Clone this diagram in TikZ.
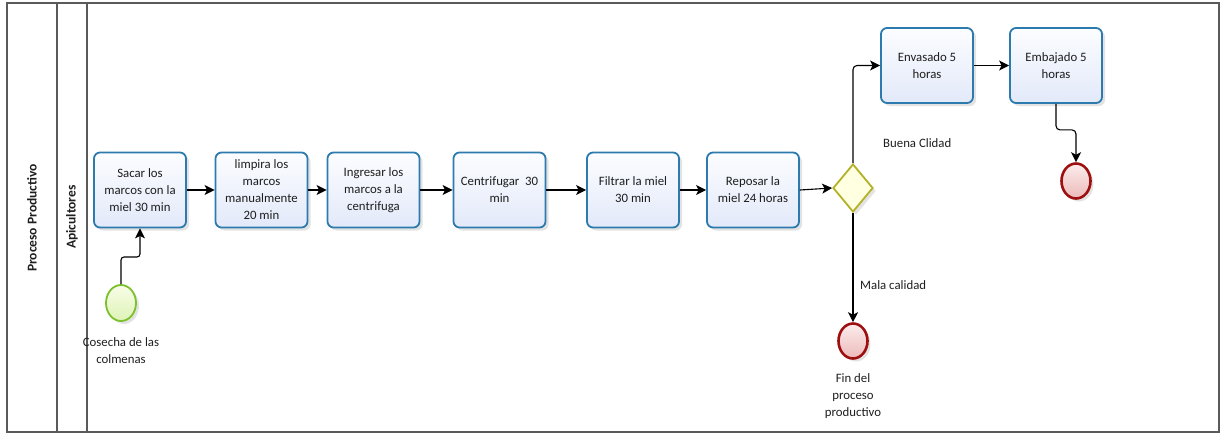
\documentclass[tikz,border=0pt]{standalone}
\usepackage{fontspec}
\setmainfont{Carlito}[BoldFont={Carlito Bold}]
\usetikzlibrary{arrows.meta,shapes.geometric,shadows,calc}

\definecolor{taskline}{RGB}{44,122,174}
\definecolor{tasktop}{RGB}{252,253,255}
\definecolor{taskbot}{RGB}{226,233,249}
\definecolor{startline}{RGB}{124,192,44}
\definecolor{starttop}{RGB}{248,253,232}
\definecolor{startbot}{RGB}{222,243,182}
\definecolor{endline}{RGB}{158,16,16}
\definecolor{endtop}{RGB}{252,236,236}
\definecolor{endbot}{RGB}{236,186,186}
\definecolor{gwline}{RGB}{180,176,40}
\definecolor{gwfill}{RGB}{255,255,226}
\definecolor{laneline}{RGB}{90,90,90}
\definecolor{txt}{RGB}{30,30,30}

\tikzset{
  shade/.style={drop shadow={opacity=0.22,shadow xshift=3pt,shadow yshift=-3pt}},
  task/.style={rectangle,rounded corners=6pt,draw=taskline,line width=1.8pt,
    top color=tasktop,bottom color=taskbot,minimum width=92pt,minimum height=75pt,
    align=center,inner sep=0pt,font=\fontsize{12.8}{17}\selectfont,
    text=txt,shade},
  startev/.style={ellipse,draw=startline,line width=1.8pt,top color=starttop,
    bottom color=startbot,minimum width=30pt,minimum height=36pt,inner sep=0pt,shade},
  endev/.style={ellipse,draw=endline,line width=2.6pt,top color=endtop,
    bottom color=endbot,minimum width=29pt,minimum height=35pt,inner sep=0pt,shade},
  gateway/.style={diamond,draw=gwline,line width=1.8pt,fill=gwfill,
    minimum width=40pt,minimum height=48pt,inner sep=0pt,shade},
  flow/.style={draw=black,line width=1.1pt,-{Stealth[length=10pt,width=10pt,inset=2.5pt]}},
  lbl/.style={font=\fontsize{12.8}{17}\selectfont,text=txt,align=center,inner sep=0pt},
  lanetitle/.style={font=\bfseries\fontsize{13.5}{15}\selectfont,text=txt,rotate=90,inner sep=0pt},
  lanerule/.style={draw=laneline,line width=1.1pt}
}

\begin{document}
\begin{tikzpicture}[x=1pt,y=-1pt]
\useasboundingbox (0,0) rectangle (1224,434);

% pool and lane frame
\draw[lanerule] (7,3) rectangle (1219,432);
\draw[lanerule] (57,3) -- (57,432);
\draw[lanerule] (87,3) -- (87,432);
\node[lanetitle] (pool) at (32,218) {Proceso Productivo};
\node[lanetitle] (lane) at (72,217) {Apicultores};

% activities
\node[task] (sacar) at (140,190) {Sacar los\\marcos con la\\miel 30 min};
\node[task] (limpia) at (261.5,190) {limpira los\\marcos\\manualmente\\20 min};
\node[task] (ingresar) at (373.5,190) {Ingresar los\\marcos a la\\centrifuga};
\node[task] (centri) at (499.5,190) {Centrifugar\ \ 30\\min};
\node[task] (filtrar) at (633,190) {Filtrar la miel\\30 min};
\node[task] (reposar) at (753,190) {Reposar la\\miel 24 horas};
\node[task] (envasado) at (927,65.5) {Envasado 5\\horas};
\node[task] (embajado) at (1056,65.5) {Embajado 5\\horas};

% events and gateway
\node[startev] (inicio) at (121,303) {};
\node[gateway] (gw) at (853,188) {};
\node[endev] (finbajo) at (853,341) {};
\node[endev] (finalto) at (1076,181) {};

% event and flow labels
\node[lbl,anchor=north] (tinicio) at (121,337) {Cosecha de las\\colmenas};
\node[lbl,anchor=north] (tfin) at (853,373) {Fin del\\proceso\\productivo};
\node[lbl,anchor=west] (tbuena) at (883,143) {Buena Clidad};
\node[lbl,anchor=west] (tmala) at (860,285) {Mala calidad};

% sequence flows
\draw[flow,rounded corners=3pt] (inicio.north) -- (inicio.north |- 0,257) -| (sacar.south);
\draw[flow] (sacar.east) -- (limpia.west);
\draw[flow] (limpia.east) -- (ingresar.west);
\draw[flow] (ingresar.east) -- (centri.west);
\draw[flow] (centri.east) -- (filtrar.west);
\draw[flow] (filtrar.east) -- (reposar.west);
\draw[flow] (reposar.east) -- (gw.west);
\draw[flow,rounded corners=4pt] (gw.north) |- (envasado.west);
\draw[flow] (envasado.east) -- (embajado.west);
\draw[flow,rounded corners=4pt] (embajado.south) -- ++(0,26) -| (finalto.north);
\draw[flow] (gw.south) -- (finbajo.north);
\end{tikzpicture}
\end{document}
